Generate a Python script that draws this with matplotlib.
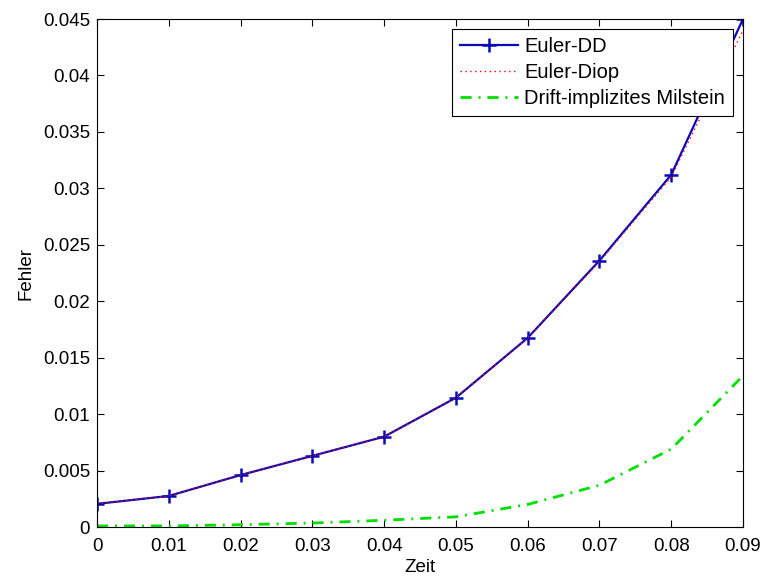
import numpy as np
import matplotlib
matplotlib.use('Agg')
import matplotlib.pyplot as plt
from matplotlib.ticker import FormatStrFormatter

plt.rcParams['font.family'] = ['Liberation Sans', 'DejaVu Sans']
plt.rcParams['font.size'] = 13.5

# Daten
zeit = [0.0, 0.01, 0.02, 0.03, 0.04, 0.05, 0.06, 0.07, 0.08, 0.09]
euler_dd = [0.00205, 0.00275, 0.0046, 0.0063, 0.0080, 0.01145, 0.01675, 0.0236, 0.0312, 0.0450]
euler_diop = [0.00205, 0.00275, 0.0046, 0.0063, 0.0080, 0.01145, 0.01675, 0.0235, 0.0310, 0.0440]
milstein = [0.0001, 0.0001, 0.0002, 0.00035, 0.0006, 0.0009, 0.0020, 0.0037, 0.0069, 0.0134]

xticks = [0, 0.01, 0.02, 0.03, 0.04, 0.05, 0.06, 0.07, 0.08, 0.09]
yticks = [0, 0.005, 0.01, 0.015, 0.02, 0.025, 0.03, 0.035, 0.04, 0.045]

fig = plt.figure(figsize=(7.63, 5.81), dpi=100)
ax = fig.add_axes([97/763, 1 - 527/581, 646/763, 508/581])

ax.plot(zeit, euler_dd, color='#0a0ab8', linestyle='-', linewidth=1.6,
        marker='+', markersize=10, markeredgewidth=1.8, label='Euler-DD')
ax.plot(zeit, euler_diop, color='#ff0000', linestyle=(0, (1, 2.5)), linewidth=1.0,
        label='Euler-Diop')
ax.plot(zeit, milstein, color='#00e000', linestyle=(0, (4, 2.5, 0.7, 2.5)), linewidth=2.0,
        label='Drift-implizites Milstein')

ax.set_xlim(0, 0.09)
ax.set_ylim(0, 0.045)
ax.set_xticks(xticks)
ax.set_yticks(yticks)
ax.xaxis.set_major_formatter(FormatStrFormatter('%g'))
ax.yaxis.set_major_formatter(FormatStrFormatter('%g'))
ax.tick_params(direction='in', length=5, width=0.8, top=True, right=True)
ax.tick_params(axis='x', pad=8)
ax.tick_params(axis='y', pad=5)
for s in ax.spines.values():
    s.set_linewidth(0.8)

ax.set_xlabel('Zeit', labelpad=3)
ax.set_ylabel('Fehler', labelpad=6)

leg = ax.legend(loc='upper right', numpoints=1, fontsize=14.5, handlelength=2.9,
                handletextpad=0.3, labelspacing=0.35, borderpad=0.4, borderaxespad=0.5,
                fancybox=False, framealpha=1, edgecolor='black')
leg.get_frame().set_linewidth(0.8)

fig.savefig('out.png', dpi=100)
